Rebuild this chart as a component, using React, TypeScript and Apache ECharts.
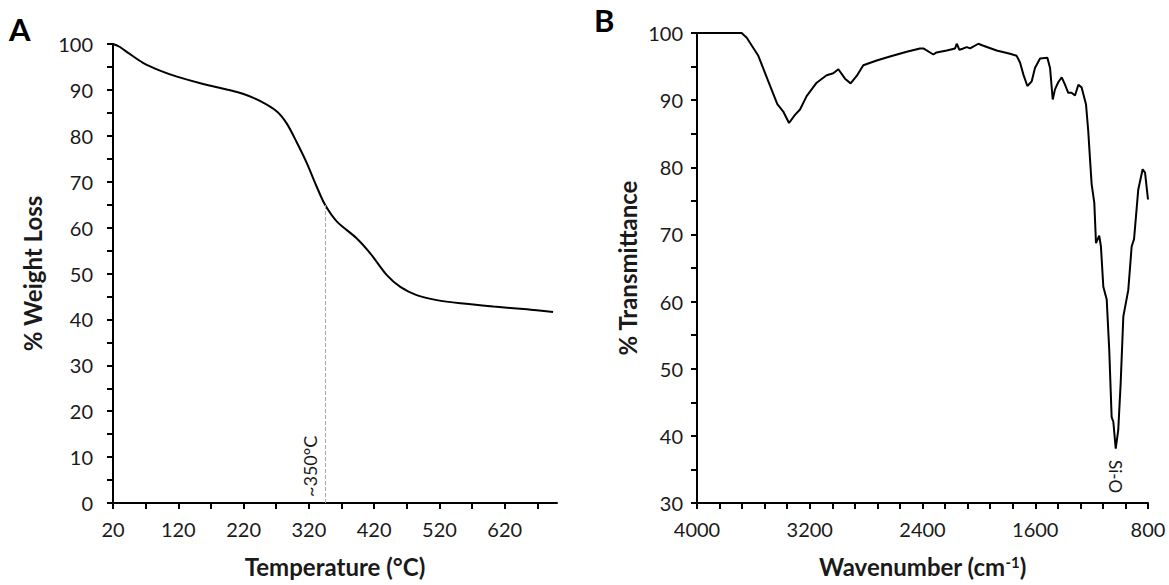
import React, { useEffect, useRef } from "react";
import * as echarts from "echarts";

const FONT = "Lato, 'Open Sans', sans-serif";
const TXT = "#1a1a1a";

// Panel A: TGA
const tgaTemp = [20, 30, 41, 66, 92, 118, 158, 194, 220, 245, 271, 286, 301, 317, 332, 345, 363, 393, 414, 439, 460, 485, 516, 552, 603, 654, 694];
const tgaWeight = [100, 99.4, 98.3, 95.9, 94.2, 92.9, 91.3, 90.1, 89.1, 87.6, 85.3, 82.7, 78.7, 74.0, 68.9, 64.9, 61.3, 57.7, 54.4, 49.7, 47.1, 45.3, 44.2, 43.5, 42.8, 42.2, 41.6];
const tempTicks = [20, 70, 120, 170, 220, 270, 320, 370, 420, 470, 520, 570, 620, 670];
const tempLabels = [20, 120, 220, 320, 420, 520, 620];
const onsetTemp = 345;
const onsetWeight = 64.9;
const onsetLabel = "~350°C";

// Panel B: FTIR
const wavenumber = [4000, 3850, 3683, 3647, 3565, 3494, 3430, 3388, 3347, 3305, 3269, 3222, 3151, 3080, 3033, 2997, 2950, 2910, 2867, 2820, 2725, 2631, 2512, 2418, 2394, 2323, 2300, 2228, 2169, 2157, 2138, 2110, 2086, 2062, 2004, 1968, 1874, 1779, 1732, 1708, 1684, 1656, 1625, 1602, 1566, 1514, 1495, 1476, 1460, 1436, 1412, 1389, 1366, 1342, 1318, 1294, 1271, 1240, 1224, 1212, 1200, 1181, 1169, 1146, 1134, 1117, 1093, 1075, 1058, 1046, 1029, 1011, 994, 975, 940, 916, 899, 869, 838, 821, 800];
const transmittance = [100, 100, 100, 99.3, 96.6, 92.8, 89.4, 88.3, 86.6, 87.8, 88.6, 90.6, 92.6, 93.7, 94.0, 94.6, 93.2, 92.5, 93.6, 95.2, 95.9, 96.5, 97.2, 97.7, 97.7, 96.8, 97.1, 97.4, 97.7, 98.4, 97.5, 97.7, 97.9, 97.7, 98.4, 98.1, 97.4, 96.9, 96.6, 95.6, 93.8, 92.1, 92.8, 94.8, 96.2, 96.3, 94.8, 90.1, 91.6, 92.7, 93.4, 92.3, 91.1, 91.1, 90.7, 92.3, 91.9, 89.4, 85.4, 81.4, 77.5, 74.7, 68.7, 69.8, 68.2, 62.2, 60.3, 52.8, 42.8, 42.1, 38.1, 40.9, 47.8, 57.8, 61.7, 68.2, 69.3, 76.7, 79.7, 79.2, 75.2];
const siOWavenumber = 1029;
const siOValue = 38.1;
const siOLabel = "Si-O";

const axisLineStyle = { show: true, lineStyle: { color: "#000", width: 2 } };
const tickStyle = { show: true, length: 6, lineStyle: { color: "#000", width: 2 } };
const labelStyle = { fontSize: 20, color: TXT, fontFamily: FONT };
const nameStyle = { fontSize: 24, fontWeight: "bold" as const, color: TXT, fontFamily: FONT };

export default function App() {
  const ref = useRef<HTMLDivElement>(null);
  useEffect(() => {
    if (!ref.current) return;
    const chart = echarts.init(ref.current, null, { renderer: "svg" });
    const option: any = {
      animation: false,
      backgroundColor: "#fff",
      grid: [
        { left: 113, top: 44, width: 444, height: 459 },
        { left: 697, top: 33, width: 451, height: 470 },
      ],
      xAxis: [
        {
          type: "value",
          gridIndex: 0,
          min: 20,
          max: 700,
          interval: 50,
          splitLine: { show: false },
          axisLine: axisLineStyle,
          axisTick: { ...tickStyle, customValues: tempTicks },
          axisLabel: { ...labelStyle, margin: 16, customValues: tempLabels },
          name: "Temperature (°C)",
          nameLocation: "middle",
          nameGap: 51,
          nameTextStyle: nameStyle,
        },
        {
          type: "value",
          gridIndex: 1,
          min: 800,
          max: 4000,
          interval: 160,
          inverse: true,
          splitLine: { show: false },
          axisLine: axisLineStyle,
          axisTick: tickStyle,
          axisLabel: {
            ...labelStyle,
            margin: 16,
            formatter: (v: number) => ((v - 800) % 800 === 0 ? String(v) : ""),
          },
          name: "Wavenumber (cm{sup|-1})",
          nameLocation: "middle",
          nameGap: 51,
          nameTextStyle: {
            ...nameStyle,
            rich: {
              sup: { fontSize: 15, fontWeight: "bold", color: TXT, fontFamily: FONT, verticalAlign: "top", lineHeight: 15 },
            },
          },
        },
      ],
      yAxis: [
        {
          type: "value",
          gridIndex: 0,
          min: 0,
          max: 100,
          interval: 5,
          splitLine: { show: false },
          axisLine: axisLineStyle,
          axisTick: tickStyle,
          axisLabel: { ...labelStyle, margin: 20, formatter: (v: number) => (v % 10 === 0 ? String(v) : "") },
          name: "% Weight Loss",
          nameLocation: "middle",
          nameGap: 69,
          nameTextStyle: nameStyle,
        },
        {
          type: "value",
          gridIndex: 1,
          min: 30,
          max: 100,
          interval: 5,
          splitLine: { show: false },
          axisLine: axisLineStyle,
          axisTick: tickStyle,
          axisLabel: { ...labelStyle, margin: 14, formatter: (v: number) => (v % 10 === 0 ? String(v) : "") },
          name: "% Transmittance",
          nameLocation: "middle",
          nameGap: 58,
          nameTextStyle: nameStyle,
        },
      ],
      graphic: [
        { type: "text", left: 9, top: 13, style: { text: "A", fontSize: 31, fontWeight: "bold", fill: "#000", fontFamily: FONT } },
        { type: "text", left: 594, top: 4, style: { text: "B", fontSize: 31, fontWeight: "bold", fill: "#000", fontFamily: FONT } },
      ],
      series: [
        {
          type: "line",
          xAxisIndex: 0,
          yAxisIndex: 0,
          data: tgaTemp.map((t, i) => [t, tgaWeight[i]]),
          showSymbol: false,
          smooth: 0.3,
          lineStyle: { color: "#000", width: 2 },
          itemStyle: { color: "#000" },
          z: 3,
          markLine: {
            silent: true,
            symbol: ["none", "none"],
            lineStyle: { color: "#a8a8a8", type: "dashed", width: 1 },
            label: {
              show: true,
              position: "insideStartTop",
              formatter: onsetLabel,
              fontSize: 18,
              color: TXT,
              fontFamily: FONT,
              distance: 6,
            },
            data: [[{ coord: [onsetTemp, 0] }, { coord: [onsetTemp, onsetWeight] }]],
          },
        },
        {
          type: "line",
          xAxisIndex: 1,
          yAxisIndex: 1,
          data: wavenumber.map((w, i) => [w, transmittance[i]]),
          showSymbol: false,
          lineStyle: { color: "#000", width: 2 },
          itemStyle: { color: "#000" },
          markPoint: {
            silent: true,
            symbol: "circle",
            symbolSize: 0,
            label: {
              show: true,
              formatter: siOLabel,
              position: "inside",
              rotate: -90,
              offset: [28, 0],
              fontSize: 17,
              color: TXT,
              fontFamily: FONT,
            },
            data: [{ coord: [siOWavenumber, siOValue] }],
          },
        },
      ],
    };
    chart.setOption(option);
    return () => chart.dispose();
  }, []);
  return <div ref={ref} style={{ position: "absolute", left: 0, top: 0, width: 1169, height: 585 }} />;
}
